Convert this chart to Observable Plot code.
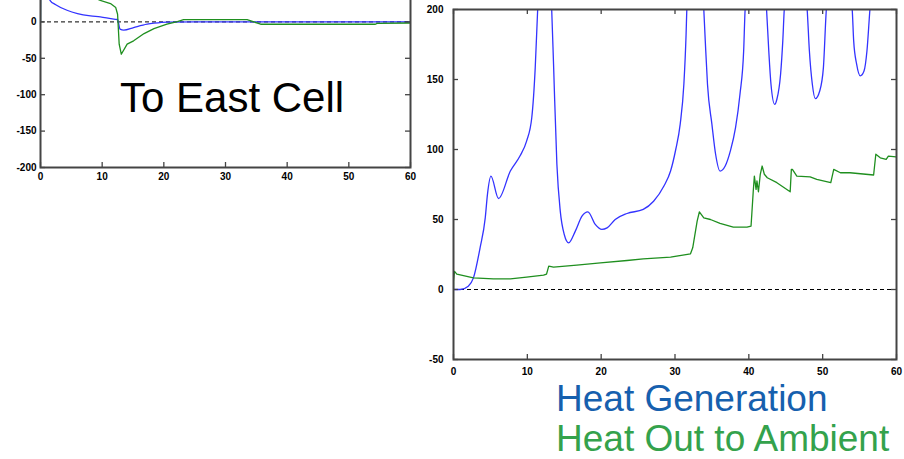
<!DOCTYPE html>
<html>
<head>
<meta charset="utf-8">
<script src="https://cdn.jsdelivr.net/npm/d3@7"></script>
<script src="https://cdn.jsdelivr.net/npm/@observablehq/plot@0.6"></script>
<style>
  html, body { margin: 0; padding: 0; background: #fff; overflow: hidden; }
  #wrap { position: relative; width: 904px; height: 459px; overflow: hidden; background: #fff; font-family: "Liberation Sans", Arial, sans-serif; }
  .pane { position: absolute; }
  .lbl { position: absolute; line-height: 1; white-space: nowrap; font-family: "Liberation Sans", Arial, sans-serif; }
</style>
</head>
<body>
<div id="wrap">
  <div id="left" class="pane" style="left:0px; top:-20px;"></div>
  <div id="right" class="pane" style="left:410px; top:0px;"></div>
  <div class="lbl" style="left:120px; top:77px; font-size:42px; color:#000;">To East Cell</div>
  <div class="lbl" style="left:556px; top:380px; font-size:37px; color:#1660ae;">Heat Generation</div>
  <div class="lbl" style="left:556px; top:420px; font-size:37px; color:#34a24c;">Heat Out to Ambient</div>
</div>
<script>
// ---------- Left panel: "To East Cell" ----------
const eastXTicks = [0, 10, 20, 30, 40, 50, 60];
const eastYTicks = [-200, -150, -100, -50, 0];
const eastBlueX = [0, 0.05, 0.8, 1.6, 2.4, 4.3, 6.0, 8.1, 9.7, 11.9, 12.5, 12.9, 13.5, 15.1, 17.3, 18.4, 20.5, 25, 35, 45, 60];
const eastBlueY = [0, 90, 45, 29, 24, 16, 11.4, 8.2, 6.9, 3.7, 3.3, -10, -11.4, -7.8, -3.2, -1.8, -0.2, 0, 0, 0, 0];
const eastGreenX = [0, 0.03, 4, 8, 9.7, 11.35, 12.2, 12.5, 12.76, 13.1, 14.05, 15.1, 16.8, 18.4, 20.5, 22.2, 23.2, 33.5, 34.6, 35.7, 54.3, 54.6, 60];
const eastGreenY = [0, 70, 50, 36, 29.5, 25.2, 19.7, 10.5, -30.6, -44.4, -30.6, -26, -16, -9.2, -3.2, 0.5, 3.2, 3.2, 0, -3.2, -3.2, -2, -1.5];

// ---------- Right panel: Heat Generation / Heat Out to Ambient ----------
const genXTicks = [0, 10, 20, 30, 40, 50, 60];
const genYTicks = [-50, 0, 50, 100, 150, 200];
const genX = [0, 0.9, 2.0, 2.7, 3.6, 4.3, 4.6, 5.07, 6.1, 7.7, 9.0, 9.9, 10.6, 11.07, 11.4, 12.3, 13.3, 13.55, 14.0, 14.46, 15.0, 15.6, 16.5, 17.4, 18.2, 19.2, 20.1, 20.8, 21.9, 23.5, 25.7, 27.1, 28.5, 29.4, 30.1, 30.7, 31.2, 31.5, 31.6, 32.7, 33.9, 34.1, 34.4, 35.0, 35.5, 36.1, 36.8, 37.5, 38.2, 38.8, 39.3, 39.5, 41.0, 42.4, 42.7, 43.0, 43.5, 43.8, 44.3, 44.6, 44.8, 46.3, 47.9, 48.2, 48.6, 49.0, 49.6, 50.1, 50.5, 52.3, 54.0, 54.2, 54.6, 55.1, 55.6, 56.0, 56.4, 58.5, 60];
const genY = [0, 0, 2.4, 8.3, 29.8, 51.2, 68, 81, 65, 84.6, 95.3, 106, 122.7, 158.5, 200, 280, 200, 161, 89.6, 56, 39.3, 33.3, 41.7, 52.4, 55.5, 46.5, 42.9, 44, 50, 54.3, 57.2, 63, 73.9, 84.6, 100, 118, 146.6, 182, 200, 280, 200, 177.6, 146.6, 118, 96.6, 84.6, 88.2, 99, 115.6, 139.5, 170.5, 200, 260, 200, 170.5, 146.6, 132.3, 135.9, 153.8, 177.6, 200, 260, 200, 170.5, 146.6, 136.3, 141.8, 158.5, 200, 260, 200, 177.6, 161, 152.6, 156, 170.5, 200, 280, 300];
const ambX = [0, 0, 0.14, 0.45, 2.7, 5.4, 7.7, 9.9, 12.2, 12.6, 12.9, 13.55, 16.7, 19.9, 23.5, 25.7, 29.4, 32.1, 32.4, 33.0, 33.3, 33.9, 34.8, 36.1, 37.9, 39.75, 40.3, 40.4, 40.6, 40.75, 40.98, 41.1, 41.3, 41.55, 41.8, 42.1, 42.5, 43.8, 45.6, 45.76, 45.9, 46.5, 48.3, 49.2, 51.1, 51.5, 52.4, 53.7, 56.9, 57.2, 57.8, 58.6, 58.9, 60];
const ambY = [0, 5.9, 13, 11, 8.3, 7.6, 7.6, 8.8, 10.2, 11, 16.7, 16, 17.4, 19, 20.7, 21.9, 23.1, 25.5, 29.8, 48.9, 55.5, 51.2, 50, 47.2, 44.6, 44.6, 45.3, 53.6, 70.3, 81, 71.5, 77.5, 69.8, 82.3, 88.2, 82.3, 79.8, 76.3, 69.8, 85.8, 85.8, 81, 80.5, 78.7, 76.3, 85.8, 83.4, 83.4, 81.8, 96.6, 94.1, 93, 95.3, 94.7];

const BLUE = "#3333ff";
const GREEN = "#1f8f1f";
const AXIS = "#444";

function pts(xs, ys) { return xs.map((x, i) => ({x, y: ys[i]})); }

function panel({width, height, mt, mr, mb, ml, xDomain, yDomain, xTicks, yTicks, series, yPad, xPad}) {
  const pw = width - ml - mr, ph = height - mt - mb;
  const fmt = d => String(d);
  const marks = [
    Plot.ruleY([0], {stroke: "#000", strokeWidth: 1, strokeDasharray: "4,3"}),
    ...series.map(s => Plot.line(s.data, {x: "x", y: "y", stroke: s.color, strokeWidth: 1.3, clip: true, curve: s.curve || "linear"})),
    Plot.tickX(xTicks, {x: d => d, stroke: AXIS, strokeWidth: 1.3, insetTop: ph - 5}),
    Plot.tickX(xTicks, {x: d => d, stroke: AXIS, strokeWidth: 1.3, insetBottom: ph - 5}),
    Plot.tickY(yTicks, {y: d => d, stroke: AXIS, strokeWidth: 1.3, insetRight: pw - 5}),
    Plot.tickY(yTicks, {y: d => d, stroke: AXIS, strokeWidth: 1.3, insetLeft: pw - 5}),
    Plot.frame({stroke: AXIS, strokeWidth: 2}),
    Plot.axisX(xTicks, {tickSize: 0, tickPadding: xPad, fontSize: 10, fontWeight: "bold", label: null, tickFormat: fmt}),
    Plot.axisY(yTicks, {tickSize: 0, tickPadding: yPad, fontSize: 10, fontWeight: "bold", label: null, tickFormat: fmt})
  ];
  return Plot.plot({
    width, height,
    marginTop: mt, marginRight: mr, marginBottom: mb, marginLeft: ml,
    style: {background: "none", fontFamily: "'Liberation Sans', Arial, sans-serif", overflow: "visible"},
    x: {domain: xDomain},
    y: {domain: yDomain},
    marks
  });
}

document.getElementById("left").append(panel({
  width: 416, height: 207, mt: 5, mr: 6, mb: 20, ml: 40,
  xDomain: [0, 60], yDomain: [-200, 50],
  xTicks: eastXTicks, yTicks: eastYTicks, xPad: 5, yPad: 4,
  series: [
    {data: pts(eastBlueX, eastBlueY), color: BLUE, curve: "monotone-x"},
    {data: pts(eastGreenX, eastGreenY), color: GREEN}
  ]
}));

document.getElementById("right").append(panel({
  width: 494, height: 380, mt: 9, mr: 8, mb: 21, ml: 43,
  xDomain: [0, 60], yDomain: [-50, 200],
  xTicks: genXTicks, yTicks: genYTicks, xPad: 8, yPad: 10,
  series: [
    {data: pts(genX, genY), color: BLUE, curve: "monotone-x"},
    {data: pts(ambX, ambY), color: GREEN}
  ]
}));
</script>
</body>
</html>
